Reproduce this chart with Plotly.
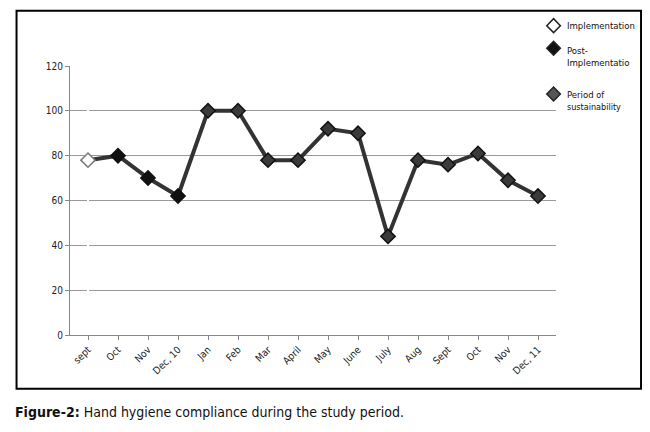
import plotly.graph_objects as go

months = ["sept", "Oct", "Nov", "Dec, 10", "Jan", "Feb", "Mar", "April", "May",
          "June", "July", "Aug", "Sept", "Oct", "Nov", "Dec, 11"]
compliance = [78, 80, 70, 62, 100, 100, 78, 78, 92, 90, 44, 78, 76, 81, 69, 62]
yticks = [0, 20, 40, 60, 80, 100, 120]

idx = list(range(len(months)))
colors = ["white"] + ["#111111"] * 3 + ["#3a3a3a"] * 12
lines = ["#777777"] + ["#111111"] * 15

fig = go.Figure()
fig.add_trace(go.Scatter(x=idx, y=compliance, mode="lines+markers", showlegend=False,
                         line=dict(color="#333333", width=4),
                         marker=dict(symbol="diamond", size=11, color=colors,
                                     line=dict(color=lines, width=1.5))))

# hand-made legend (diamond + text) on the right of the plot
legend_items = [
    ("Implementation", "white", 1.15, 1.15),
    ("Post-<br>Implementatio", "#111111", 1.066, 1.037),
    ("Period <span style='font-size:9px'>of<br>sustainability</span>", "#555555", 0.896, 0.87),
]
shapes = [dict(type="rect", xref="paper", yref="paper",
               x0=-0.11, x1=1.175, y0=-0.2, y1=1.205,
               line=dict(color="black", width=2))]
annotations = []
for text, c, ym, yt in legend_items:
    xm, dx, dy = 0.995, 0.014, 0.026
    shapes.append(dict(type="path", xref="paper", yref="paper",
                       path=f"M {xm-dx} {ym} L {xm} {ym+dy} L {xm+dx} {ym} L {xm} {ym-dy} Z",
                       fillcolor=c, line=dict(color="#222", width=1.5)))
    annotations.append(dict(xref="paper", yref="paper", x=1.018, y=yt, xanchor="left",
                            yanchor="middle", showarrow=False, align="left", text=text,
                            font=dict(size=9.5, color="#111")))
annotations.append(dict(xref="paper", yref="paper", x=-0.117, y=-0.25, xanchor="left",
                        yanchor="top", showarrow=False,
                        text="<b>Figure-2:</b> Hand hygiene compliance during the study period.",
                        font=dict(size=14, family="DejaVu Sans Condensed", color="#111")))

fig.update_layout(
    width=650, height=432, margin=dict(l=62, r=102, t=58, b=105, autoexpand=False),
    plot_bgcolor="white", paper_bgcolor="white", showlegend=False,
    font=dict(family="DejaVu Sans Condensed", size=10, color="#222"),
    xaxis=dict(tickmode="array", tickvals=idx, ticktext=months, tickangle=-45,
               range=[-0.6, 15.6], showgrid=False, showline=True, linecolor="#888",
               ticks="outside", ticklen=4, tickcolor="#888"),
    yaxis=dict(tickvals=yticks, range=[0, 120], showgrid=True, gridcolor="#999",
               showline=True, linecolor="#888", ticks="outside", ticklen=4,
               tickcolor="#888", zeroline=False),
    shapes=shapes,
    annotations=annotations,
)

fig.write_html("out.html")
